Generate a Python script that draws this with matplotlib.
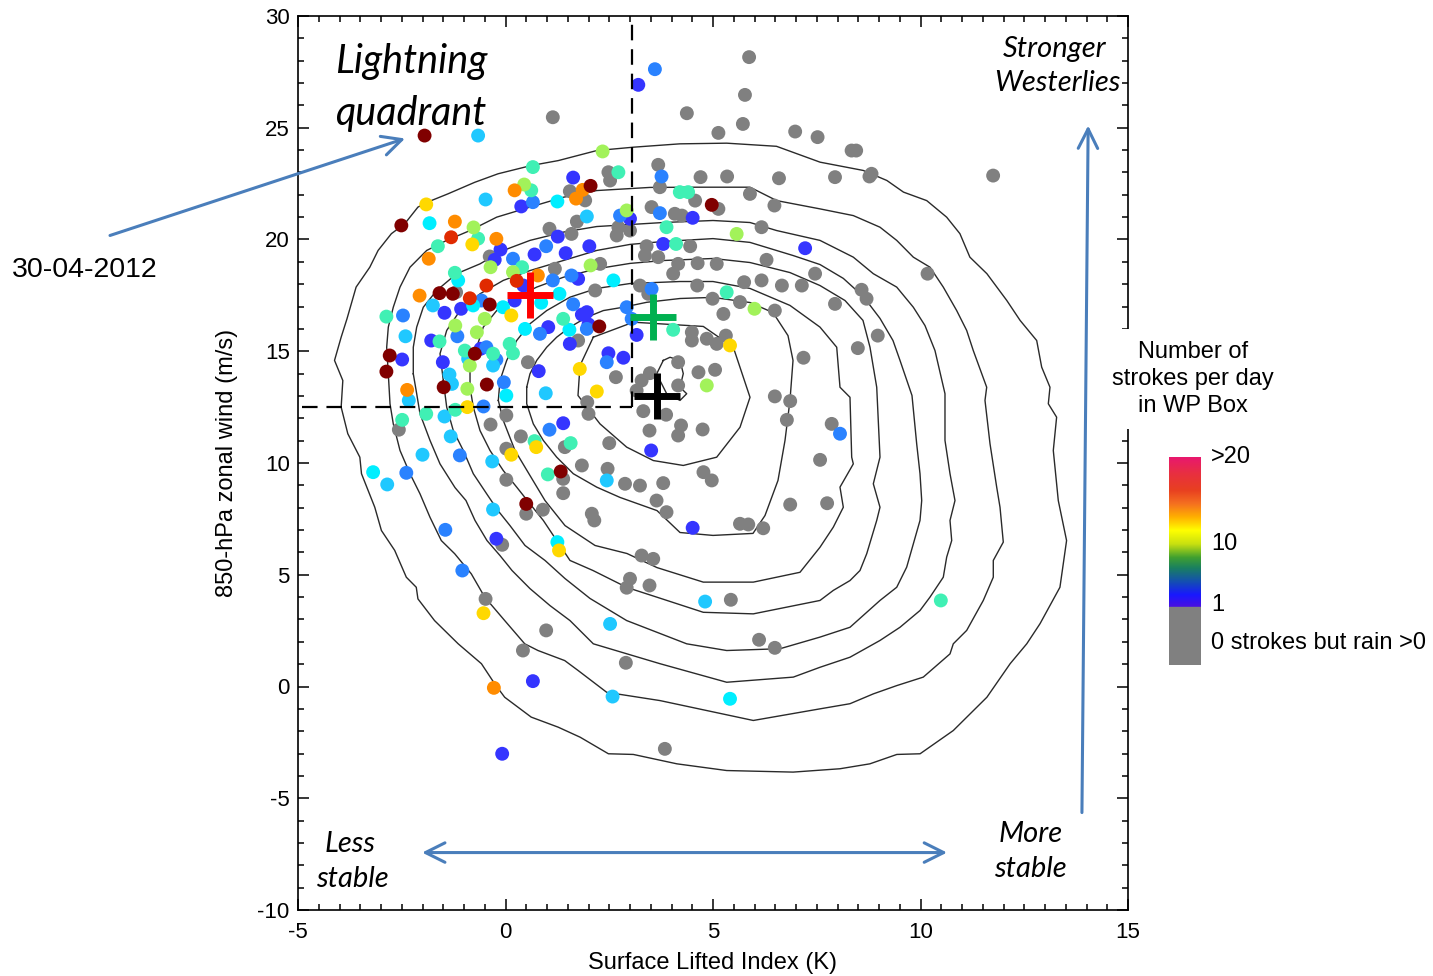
import numpy as np
import matplotlib
matplotlib.use('Agg')
import matplotlib.pyplot as plt
from matplotlib.colors import LinearSegmentedColormap
from matplotlib.ticker import MultipleLocator

plt.rcParams['axes.unicode_minus'] = False

# ---------------- data ----------------
gray_pts = [(1.14,25.47),(1.55,22.16),(-0.38,19.24),(1.06,20.48),(1.59,20.25),(1.19,18.69),(-1.19,17.64),(1.72,20.8),
 (4.37,25.65),(5.72,25.17),(5.13,24.77),(6.98,24.83),(7.52,24.58),(2.48,23.01),(2.52,22.64),(3.68,23.34),(3.72,22.34),
 (4.7,22.79),(5.34,22.82),(6.59,22.74),(7.94,22.79),(1.92,21.75),(4.57,21.74),(5.89,22.04),(5.13,21.37),(6.48,21.52),
 (3.52,21.45),(4.08,21.15),(4.25,21.07),(2.72,20.55),(2.68,20.18),(3.0,20.4),(6.17,20.55),(4.45,19.7),(3.4,19.7),
 (3.36,19.28),(3.68,19.21),(4.16,18.91),(4.04,18.47),(4.63,18.94),(5.09,18.91),(6.29,19.09),(7.46,18.47),(7.14,17.94),
 (6.17,18.17),(5.75,18.09),(6.66,17.94),(7.94,17.12),(6.49,16.82),(5.65,17.2),(4.99,17.35),(4.62,17.94),(5.25,16.67),
 (2.28,18.91),(2.16,17.72),(3.24,17.94),(3.44,17.57),(8.34,23.98),(8.45,23.98),(8.77,22.82),(8.82,22.94),(11.75,22.86),
 (10.17,18.47),(8.58,17.75),(8.7,17.35),(8.97,15.7),(8.49,15.14),(7.86,11.75),(7.58,10.14),(7.75,8.2),
 (-2.57,11.49),(0.54,14.51),(0.02,12.13),(-0.36,11.72),(0.37,11.19),(0.02,10.64),(1.43,10.71),(0.02,9.25),(1.39,9.29),
 (1.39,8.65),(0.5,7.73),(0.9,7.91),(1.75,15.48),(4.49,15.85),(4.49,15.48),(4.85,15.56),(5.09,15.33),(5.31,15.7),
 (7.18,14.71),(2.66,13.84),(4.16,14.51),(4.65,14.06),(5.05,14.17),(3.48,14.02),(3.28,13.69),(3.16,13.24),(4.16,13.47),
 (1.97,12.72),(2.0,12.2),(3.32,12.32),(3.87,12.16),(6.49,12.98),(6.86,12.77),(6.78,11.93),(3.47,11.45),(4.23,11.68),
 (4.16,11.23),(4.75,11.5),(2.5,10.89),(1.84,9.89),(2.46,9.74),(2.88,9.07),(3.24,8.99),(3.8,9.1),(4.77,9.59),(4.97,9.22),
 (3.64,8.32),(3.88,7.8),(2.08,7.73),(6.86,8.14),(2.14,7.43),(5.65,7.28),(5.85,7.25),(6.21,7.08),(3.28,5.86),(3.56,5.71),
 (3.0,4.82),(2.92,4.42),(3.47,4.52),(5.43,3.88),(6.11,2.09),(6.49,1.73),(2.9,1.06),(3.84,-2.79),(-0.08,6.34),
 (-0.48,3.92),(0.98,2.51),(0.42,1.61),(5.87,28.16),(5.77,26.47)]

dblue_pts = [(0.38,21.48),(1.63,22.77),(-0.12,19.55),(-0.26,19.09),(0.7,19.33),(1.26,20.13),(1.45,19.39),(-1.47,16.72),
 (-1.07,16.9),(0.22,17.27),(4.51,20.97),(3.0,20.93),(7.22,19.61),(2.02,19.7),(3.8,19.8),(1.75,18.24),(1.96,16.75),
 (-2.49,14.63),(-1.79,15.48),(-1.51,14.51),(-0.6,15.11),(0.8,14.11),(1.39,11.78),(2.0,16.2),(1.84,16.64),(1.55,15.33),
 (3.16,15.73),(2.48,14.91),(2.84,14.71),(3.51,10.56),(4.51,7.1),(-0.22,6.61),(0.66,0.24),(-0.08,-3.01),(3.2,26.92),
 (0.43,17.94),(1.03,16.08)]

azure_pts = [(0.66,21.67),(0.18,19.14),(0.98,19.7),(1.14,18.17),(1.59,18.39),(-0.58,17.27),(-2.47,16.6),(1.63,17.1),
 (3.76,22.82),(3.72,21.18),(2.76,21.07),(3.52,17.79),(2.92,16.97),(3.04,16.45),(8.06,11.31),(-1.16,15.67),(-0.46,15.18),
 (-0.22,14.62),(-0.04,13.61),(-0.53,12.53),(-1.1,10.34),(-2.39,9.56),(1.06,11.49),(1.96,16.0),(2.44,14.51),(-1.45,7.01),
 (-1.04,5.19),(3.6,27.62),(0.83,15.78)]

lblue_pts = [(-0.66,24.65),(-0.48,21.79),(-1.75,17.05),(1.96,21.03),(-2.41,15.67),(-2.33,12.8),(-1.35,13.96),(-1.29,13.54),
 (-0.9,14.66),(-0.3,14.36),(-1.47,12.08),(-1.32,11.19),(-2.0,10.37),(-0.32,10.07),(-2.85,9.04),(0.97,13.12),(-0.3,7.92),
 (2.44,9.22),(4.81,3.8),(2.52,2.8),(2.58,-0.45)]

cyan_pts = [(1.25,21.7),(-1.83,20.73),(-1.14,18.17),(-0.78,17.05),(-0.06,16.97),(1.3,17.57),(0.86,17.17),(2.6,18.17),
 (0.02,13.02),(-3.19,9.59),(1.54,15.96),(1.25,6.46),(5.41,-0.55),(0.47,16.0)]

aqua_pts = [(0.66,23.24),(0.62,22.2),(-0.66,20.04),(-1.63,19.7),(0.4,18.76),(-1.22,18.51),(-2.87,16.55),(2.72,23.01),
 (4.2,22.12),(4.4,22.12),(3.88,20.55),(4.11,19.8),(5.33,17.64),(-2.49,11.93),(-1.59,15.44),(-0.98,15.03),(-0.3,14.89),
 (0.1,15.33),(0.18,14.91),(-1.21,12.38),(-1.91,12.2),(0.7,10.98),(1.57,10.89),(1.02,9.49),(4.04,15.96),(10.49,3.85),
 (1.39,16.45)]

lgreen_pts = [(0.45,22.46),(-0.77,20.54),(-0.36,18.76),(0.18,18.54),(2.34,23.94),(2.92,21.3),(5.57,20.25),(6.0,16.9),
 (2.05,18.84),(-1.21,16.15),(-0.5,16.45),(-0.69,15.85),(-0.86,14.36),(-0.92,13.32),(4.85,13.47)]

yellow_pts = [(-1.91,21.57),(-0.8,19.78),(0.14,16.6),(-0.92,12.5),(0.14,10.37),(0.74,10.71),(1.79,14.21),(5.41,15.26),
 (2.2,13.2),(1.29,6.09),(-0.53,3.28)]

orange_pts = [(0.22,22.2),(1.7,21.83),(-1.22,20.8),(-0.22,20.03),(-1.85,19.14),(0.78,18.39),(-2.07,17.49),(1.86,22.22),
 (-2.37,13.27),(-0.28,-0.06)]

red_pts = [(-1.31,20.1),(-0.46,17.94),(-0.86,17.37),(0.27,18.15)]

dred_pts = [(-1.95,24.65),(-2.51,20.63),(-1.59,17.6),(-1.27,17.57),(-0.38,17.09),(2.05,22.4),(4.97,21.55),(-2.79,14.81),
 (-2.87,14.09),(-1.49,13.39),(-0.74,14.89),(-0.45,13.51),(1.33,9.62),(0.5,8.17),(2.26,16.11)]

# contour rings (closed lines), innermost to outermost
star_x = [3.802,3.964,4.205,4.284,4.205,4.366,4.205,3.884,3.723,3.643]
star_y = [14.59,14.73,14.59,14.0,13.39,13.1,12.8,13.1,13.69,13.99]
r2_x = [2.116,3.08,4.766,5.489,5.892,5.651,5.089,4.284,3.561,2.92,2.277,1.747,1.795]
r2_y = [15.63,16.3,16.11,15.18,12.94,11.6,10.26,9.89,10.11,10.71,11.75,13.02,14.36]
r3_x = [0.511,0.59,0.752,0.993,1.234,1.554,1.957,2.357,2.839,3.402,4.205,5.0,5.892,6.446,6.807,6.928,6.855,6.735,
        6.566,6.253,5.964,5.0,4.205,3.651,2.759,2.198,1.634,1.234,0.911,0.67,0.511]
r3_y = [13.39,13.99,14.59,15.18,15.63,16.08,16.52,16.82,16.97,17.19,17.36,17.41,17.18,16.73,15.7,14.59,12.8,11.01,
        9.22,7.65,6.85,6.76,6.89,7.87,8.46,8.92,9.52,10.26,11.01,11.75,12.65]
r4_x = [-0.173,-0.133,0.029,0.27,0.59,0.993,1.554,2.198,3.0,4.205,5.0,5.892,6.855,7.578,7.981,8.06,8.301,8.342,8.381,
        8.06,8.14,7.899,7.578,7.096,5.971,4.766,3.651,2.928,2.157,1.434,0.952,0.59,0.229,-0.053]
r4_y = [12.8,13.69,14.59,15.48,16.23,16.82,17.42,17.81,18.03,18.12,18.12,17.81,17.05,16.08,15.18,13.39,12.94,10.26,
        9.96,8.92,8.02,7.13,6.23,5.11,4.67,4.67,5.32,5.95,6.31,7.2,8.32,9.44,10.56,11.9]
r5_x = [-0.855,-0.855,-0.694,-0.535,-0.212,0.27,0.752,1.393,2.198,3.0,3.802,5.0,5.892,6.855,7.578,8.181,8.614,8.783,
        8.945,9.024,8.863,9.024,8.945,8.704,8.542,8.301,7.899,7.578,6.614,5.971,4.766,3.643,2.928,2.108,1.554,1.234,
        0.911,0.59,0.27,-0.053,-0.373,-0.614,-0.776]
r5_y = [13.39,14.29,15.18,16.08,16.82,17.42,17.87,18.31,18.69,18.93,19.06,19.15,18.97,18.52,17.94,17.27,16.38,15.18,
        13.39,10.26,9.07,8.02,7.43,5.94,5.19,4.74,4.3,3.85,3.49,3.25,3.32,4.0,4.43,5.19,5.64,6.53,
        7.43,8.17,8.92,9.66,10.56,11.45,12.5]
r6_x = [-1.499,-1.578,-1.417,-1.096,-0.614,-0.053,0.59,1.393,2.198,3.0,3.802,5.0,5.892,6.935,7.578,8.14,8.622,9.024,
        9.337,9.506,9.795,9.908,9.988,10.029,9.988,9.827,9.667,9.427,9.024,8.301,7.578,6.614,5.33,4.366,2.92,2.036,
        1.434,0.952,0.47,0.108,-0.181,-0.453,-0.776,-1.017,-1.258,-1.417]
r6_y = [13.69,14.89,15.93,16.82,17.57,18.17,18.61,19.06,19.51,19.78,19.91,20.04,19.87,19.28,18.88,18.26,17.45,16.47,
        15.48,14.59,13.02,10.86,9.52,8.32,7.43,6.38,5.34,4.44,3.85,2.65,2.21,1.69,1.61,1.91,2.95,3.94,
        4.83,5.64,6.31,7.2,7.87,8.62,9.52,10.56,11.45,12.5]
r7_x = [-2.222,-2.222,-2.14,-1.981,-1.658,-1.176,-0.614,-0.053,0.59,1.393,2.198,3.0,3.802,5.0,5.892,6.535,7.578,8.381,
        8.863,9.427,9.827,10.108,10.349,10.59,10.59,10.711,10.831,10.711,10.752,10.631,10.549,10.229,9.988,9.506,9.024,
        8.301,7.578,6.935,5.33,3.723,2.116,1.554,1.072,0.59,0.157,-0.133,-0.446,-0.735,-0.952,-1.217,-1.578,-1.819,
        -2.06,-2.14]
r7_y = [13.99,15.18,16.08,16.97,17.72,18.47,18.91,19.51,19.96,20.33,20.58,20.67,20.76,20.85,20.76,20.4,19.96,19.21,
        18.47,17.87,16.97,16.15,15.03,13.1,11.01,9.52,8.32,7.43,6.53,5.79,4.89,4.0,3.4,2.65,2.06,
        1.31,0.86,0.42,0.19,1.02,1.91,2.95,3.62,4.38,5.19,5.86,6.53,7.43,8.32,8.9,9.96,11.01,
        12.2,13.1]
r8_x = [-2.824,-2.863,-2.824,-2.704,-2.542,-2.301,-1.899,-1.417,-0.855,-0.212,0.59,1.393,2.198,3.482,4.607,5.892,6.535,
        7.578,8.381,9.024,9.427,9.827,10.229,10.549,10.872,11.113,11.272,11.595,11.554,11.675,11.836,11.916,11.995,
        11.754,11.754,11.513,11.113,10.79,10.711,10.067,9.427,8.863,8.301,7.578,5.971,3.723,2.439,1.747,1.427,0.783,
        0.463,-0.019,-0.501,-0.824,-1.224,-1.547,-1.819,-2.06,-2.301,-2.542,-2.704,-2.783]
r8_y = [13.99,15.18,16.08,16.97,17.87,18.76,19.51,19.96,20.4,21.0,21.45,21.89,22.19,22.33,22.34,22.34,21.74,
        21.37,21.07,20.55,19.96,19.21,18.76,17.87,16.82,15.93,15.03,13.39,12.8,10.86,8.92,8.02,6.46,
        5.64,4.89,3.85,2.51,1.91,1.46,0.42,0.04,-0.33,-0.77,-1.0,-1.52,-0.63,-0.26,0.72,1.16,1.61,
        1.91,2.95,4.0,5.04,5.94,6.53,7.57,8.62,9.52,10.56,11.75,12.65]
r9_x = [-3.96,-3.92,-4.12,-3.96,-3.82,-3.6,-3.27,-3.07,-2.75,-2.43,-2.11,-1.79,-1.39,-0.74,-0.18,0.62,1.27,2.2,3.08,4.2,
        5.33,6.53,7.58,8.62,9.19,9.59,10.15,10.63,10.95,11.19,11.6,12.08,12.4,12.8,12.92,13.12,13.08,13.28,13.2,13.28,
        13.32,13.52,13.36,12.88,12.56,12.16,11.6,10.79,9.99,9.43,8.78,8.06,6.93,5.33,4.13,3.08,2.48,1.8,1.27,0.62,-0.02,
        -0.26,-0.58,-1.14,-1.71,-2.11,-2.15,-2.39,-2.67,-2.99,-3.15,-3.47,-3.51,-3.8]
r9_y = [12.5,13.69,14.59,15.63,16.45,17.87,18.76,19.51,20.26,20.7,21.45,21.74,22.04,22.56,22.94,23.31,23.53,23.98,24.13,
        24.28,24.31,24.17,23.46,23.09,22.64,22.12,21.74,21.0,20.26,19.21,18.47,17.27,16.38,15.48,14.29,13.39,12.65,12.05,
        10.56,9.07,8.32,6.53,4.44,2.81,1.91,1.02,-0.48,-1.97,-3.01,-3.04,-3.46,-3.68,-3.83,-3.76,-3.46,-3.04,-3.01,-2.27,
        -1.82,-1.37,-0.48,0.12,1.02,1.91,2.95,3.92,4.44,4.89,6.09,6.98,8.02,9.52,10.26,11.31]
rings = [(star_x, star_y), (r2_x, r2_y), (r3_x, r3_y), (r4_x, r4_y), (r5_x, r5_y),
         (r6_x, r6_y), (r7_x, r7_y), (r8_x, r8_y), (r9_x, r9_y)]

cross_x = [0.6, 3.55, 3.65]
cross_y = [17.5, 16.55, 13.0]
cross_col = ['#ff0000', '#00b050', '#000000']

x_ticks = [-5, 0, 5, 10, 15]
y_ticks = [-10, -5, 0, 5, 10, 15, 20, 25, 30]

# ---------------- figure ----------------
W, H = 1433, 976
fig = plt.figure(figsize=(W/100, H/100), dpi=100)
ax = fig.add_axes([298/W, 1-910/H, 830/W, 894/H])
ax.set_xlim(-5, 15)
ax.set_ylim(-10, 30)

SANS = ['Liberation Sans', 'DejaVu Sans']
ITAL = ['Lato', 'DejaVu Sans']

for rx, ry in rings:
    ax.plot(list(rx) + [rx[0]], list(ry) + [ry[0]], color='#2a2a2a', lw=1.0, zorder=1)

# dashed quadrant lines
ax.plot([3.05, 3.05], [12.5, 30], color='black', lw=1.6, dashes=(7, 4), zorder=4)
ax.plot([-4.9, 3.05], [12.5, 12.5], color='black', lw=1.6, dashes=(7, 4), zorder=4)

# dots
groups = [(gray_pts, '#808080'), (dblue_pts, '#3535ff'), (azure_pts, '#2a82ff'), (lblue_pts, '#20c8ff'),
          (cyan_pts, '#00eeff'), (aqua_pts, '#40f0b4'), (lgreen_pts, '#a2f25a'), (yellow_pts, '#ffd800'),
          (orange_pts, '#ff8c00'), (red_pts, '#e02a00'), (dred_pts, '#800000')]
for pts, col in groups:
    p = np.array(pts)
    ax.scatter(p[:, 0], p[:, 1], s=100, color=col, edgecolors='none', zorder=3)

for x, y, c in zip(cross_x, cross_y, cross_col):
    ax.plot(x, y, marker='+', markersize=33, mew=5, color=c, zorder=6)

# axes styling
ax.xaxis.set_minor_locator(MultipleLocator(0.5))
ax.yaxis.set_minor_locator(MultipleLocator(1))
ax.set_xticks(x_ticks)
ax.set_yticks(y_ticks)
ax.tick_params(which='both', direction='in', top=True, right=True, width=1.1)
ax.tick_params(which='major', length=8)
ax.tick_params(which='minor', length=4)
ax.tick_params(axis='x', pad=9)
ax.tick_params(axis='y', pad=6)
for lab in ax.get_xticklabels() + ax.get_yticklabels():
    lab.set_fontfamily(SANS)
    lab.set_fontsize(16)
for s in ax.spines.values():
    s.set_linewidth(1.2)
ax.set_xlabel('Surface Lifted Index (K)', fontsize=17, family=SANS, labelpad=6)
ax.set_ylabel('850-hPa zonal wind (m/s)', fontsize=17, family=SANS, labelpad=14)

def ftext(px, py, s, **kw):
    fig.text(px/W, 1-py/H, s, **kw)

# annotations
ftext(335, 62, 'Lightning', fontsize=28.5, style='italic', family=ITAL, ha='left', va='center')
ftext(335, 113, 'quadrant', fontsize=28.5, style='italic', family=ITAL, ha='left', va='center')
ftext(1055, 49, 'Stronger', fontsize=21, style='italic', family=ITAL, ha='center', va='center')
ftext(1057, 83, 'Westerlies', fontsize=21, style='italic', family=ITAL, ha='center', va='center')
ftext(350, 844, 'Less', fontsize=21, style='italic', family=ITAL, ha='center', va='center')
ftext(352, 879, 'stable', fontsize=21, style='italic', family=ITAL, ha='center', va='center')
ftext(1031, 834, 'More', fontsize=21, style='italic', family=ITAL, ha='center', va='center')
ftext(1030, 869, 'stable', fontsize=21, style='italic', family=ITAL, ha='center', va='center')
ftext(85, 270, '30-04-2012', fontsize=20.5, family=SANS, ha='center', va='center')

ACOL = '#4a7ebb'
aprops = dict(arrowstyle='->,head_length=0.7,head_width=0.35', color=ACOL, lw=2.2, mutation_scale=20,
              shrinkA=0, shrinkB=0)
ax.annotate('', xy=(-2.42, 24.52), xytext=(-9.53, 20.18), arrowprops=aprops, annotation_clip=False)
ax.annotate('', xy=(10.64, -7.43), xytext=(-2.01, -7.43),
            arrowprops=dict(aprops, arrowstyle='<->,head_length=0.7,head_width=0.35'), annotation_clip=False)
ax.annotate('', xy=(14.04, 25.1), xytext=(13.89, -5.64), arrowprops=aprops, annotation_clip=False, zorder=1)

# colour bar legend
ftext(1193, 379, 'Number of\nstrokes per day\nin WP Box', fontsize=17, family=SANS, ha='center', va='center',
      linespacing=1.32, bbox=dict(facecolor='white', edgecolor='none', pad=8), zorder=10)
stops = [(0.0, '#4a10e0'), (0.08, '#1818ff'), (0.17, '#1450b0'), (0.26, '#1a8060'), (0.33, '#40a030'),
         (0.42, '#c8e010'), (0.51, '#ffff00'), (0.6, '#ffb000'), (0.69, '#f57020'), (0.78, '#e84020'),
         (0.89, '#e83040'), (1.0, '#e8186e')]
cmap = LinearSegmentedColormap.from_list('strokes', stops)
cax = fig.add_axes([1169/W, 1-665/H, 32/W, 208/H])
grad = np.linspace(0, 1, 256).reshape(-1, 1)
cax.imshow(grad, cmap=cmap, aspect='auto', origin='lower', extent=[0, 1, 58, 208])
cax.add_patch(plt.Rectangle((0, 0), 1, 58, color='#808080'))
cax.set_xlim(0, 1)
cax.set_ylim(0, 208)
cax.axis('off')
ftext(1211, 457, '>20', fontsize=17, family=SANS, ha='left', va='center')
ftext(1211, 544, '10', fontsize=17, family=SANS, ha='left', va='center')
ftext(1211, 605, '1', fontsize=17, family=SANS, ha='left', va='center')
ftext(1211, 643, '0 strokes but rain >0', fontsize=17, family=SANS, ha='left', va='center')

fig.savefig('out.png', dpi=100)
